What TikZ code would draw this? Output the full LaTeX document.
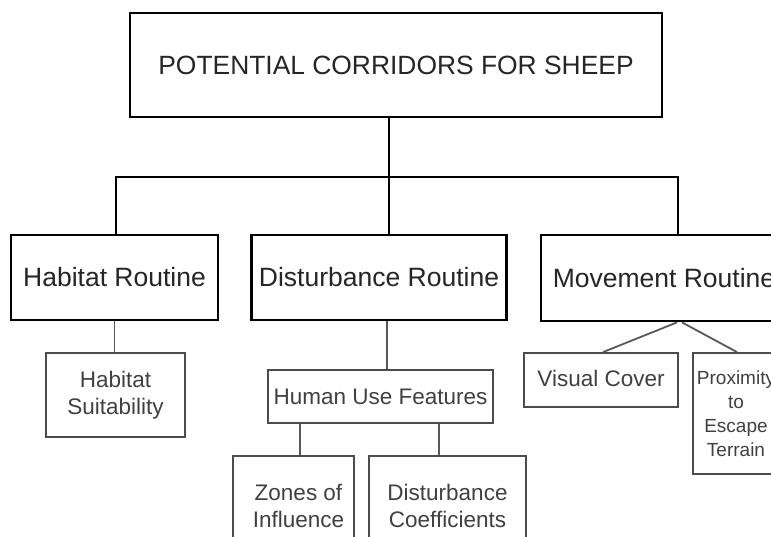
\documentclass[tikz,border=0pt]{standalone}
\usepackage{fontspec}
\setmainfont{Liberation Sans}
\begin{document}
\begin{tikzpicture}[x=1pt,y=-1pt,
  bigbox/.style={draw=black, line width=2.8pt, fill=white, inner sep=0pt, align=center, text=black!85,
    font=\fontsize{26.5}{30}\selectfont},
  smallbox/.style={draw=black!70, line width=1.8pt, fill=white, inner sep=0pt, align=center, text=black!75,
    font=\fontsize{22.5}{27}\selectfont},
  bigline/.style={draw=black, line width=2.6pt},
  smallline/.style={draw=black!65, line width=1.8pt}]
\useasboundingbox (0,0) rectangle (771,537);
\clip (0,0) rectangle (771,537);
\fill[white] (0,0) rectangle (771,537);
% top
\node[bigbox, minimum width=532pt, minimum height=104pt, font=\fontsize{26.4}{30}\selectfont] (top) at (396,65) {POTENTIAL CORRIDORS FOR SHEEP};
% routines
\node[bigbox, minimum width=207pt, minimum height=85pt] (hab) at (114.5,277.5) {Habitat Routine};
\node[bigbox, minimum width=255pt, minimum height=85pt] (dist) at (379,277.5) {Disturbance Routine};
\node[bigbox, minimum width=246pt, minimum height=86pt] (mov) at (664,278) {Movement Routine};
% bus
\coordinate (bus) at (389,177);
\draw[bigline] (top.south -| bus) -- (bus);
\draw[bigline, line join=miter] ([xshift=1.5pt]hab.north) |- (bus) -| (mov.north -| 678,0);
\draw[bigline] (bus) -- (dist.north -| bus);
% second level
\node[smallbox, minimum width=139pt, minimum height=84pt] (suit) at (115.5,395) {Habitat\\Suitability};
\node[smallbox, minimum width=225pt, minimum height=53pt] (huf) at (380.5,396.5) {Human Use Features};
\node[smallbox, minimum width=154pt, minimum height=54pt] (vc) at (601,380) {\raisebox{3pt}{Visual Cover}};
\node[smallbox, minimum width=86pt, minimum height=121pt, font=\fontsize{19}{24}\selectfont] (prox) at (736,413.5) {Proximity\\to\\Escape\\Terrain};
% third level
\node[smallbox, minimum width=121pt, minimum height=110pt, anchor=north] (zones) at (293.5,455) {\raisebox{27pt}{\parbox{121pt}{\centering\hspace{10pt}Zones of\\\hspace{10pt}Influence}}};
\node[smallbox, minimum width=157pt, minimum height=110pt, anchor=north] (dc) at (447.5,455) {\raisebox{27pt}{\parbox{157pt}{\centering Disturbance\\Coefficients}}};
% connectors
\draw[smallline] (hab.south) -- (suit.north -| hab.south);
\draw[smallline] ([xshift=8pt]dist.south) -- ([xshift=8pt]dist.south |- huf.north);
\draw[smallline] ([xshift=6.5pt]zones.north |- huf.south) -- ([xshift=6.5pt]zones.north);
\draw[smallline] ([xshift=-8.5pt]dc.north |- huf.south) -- ([xshift=-8.5pt]dc.north);
\draw[smallline] ([xshift=13pt]mov.south) -- ([xshift=2pt]vc.north);
\draw[smallline] ([xshift=18pt]mov.south) -- ([xshift=1pt]prox.north);
\end{tikzpicture}
\end{document}
